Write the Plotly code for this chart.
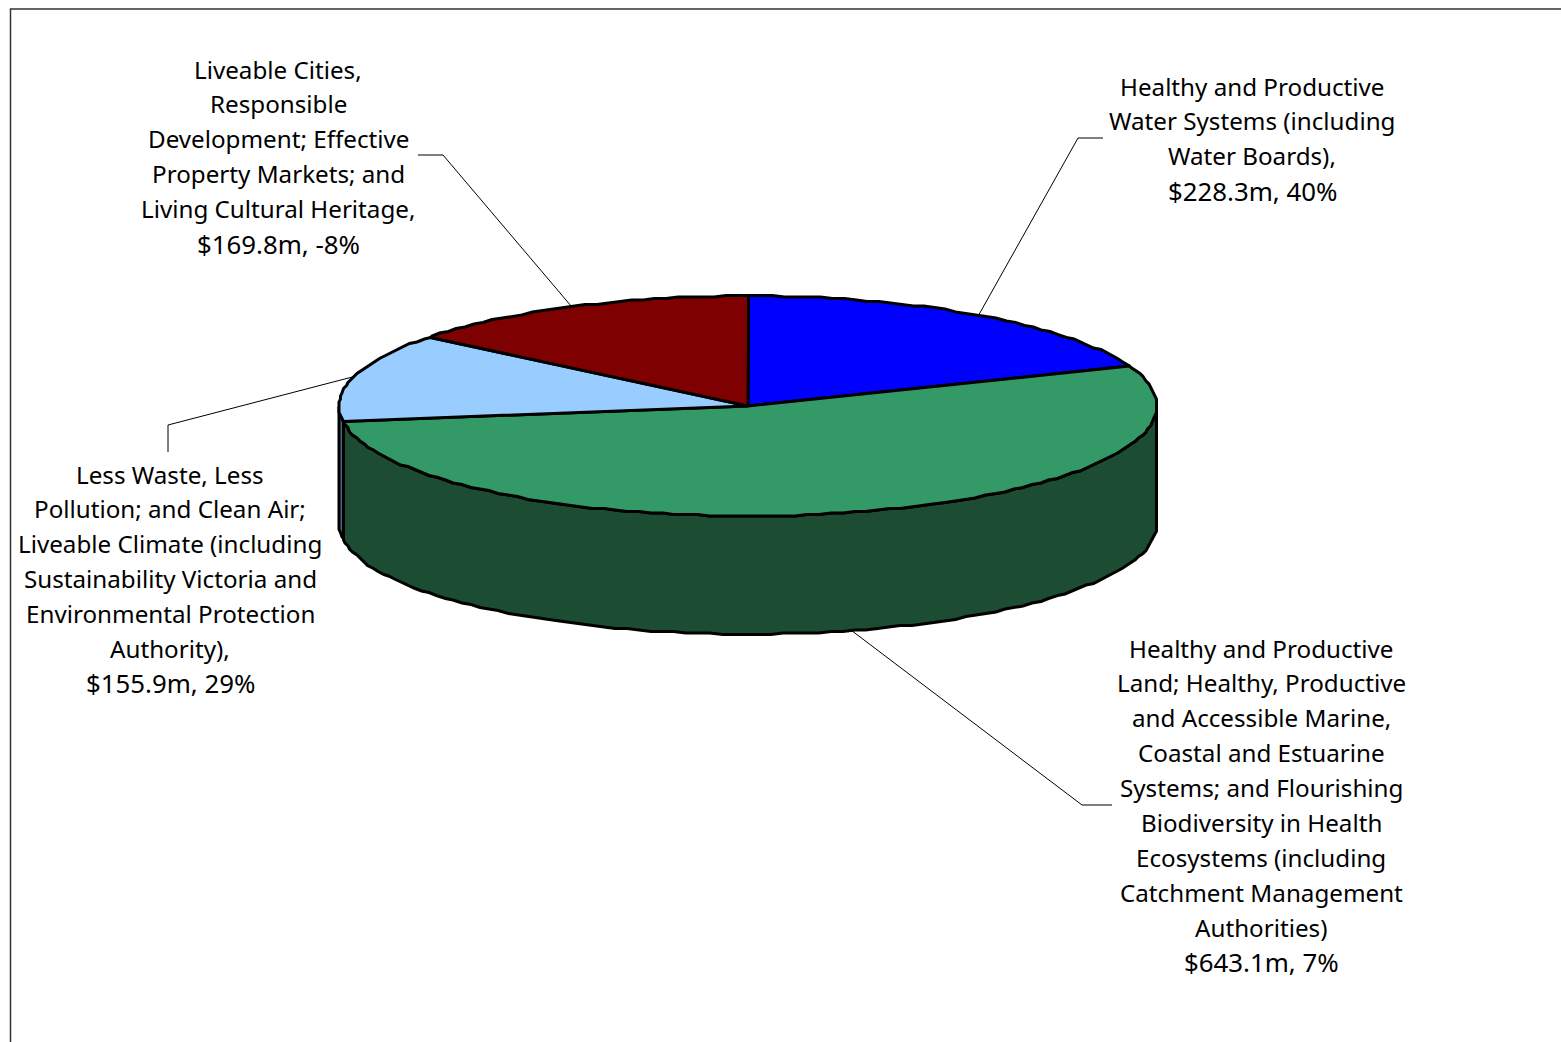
import numpy as np
import plotly.graph_objects as go

categories = ["Healthy and Productive Water Systems", "Healthy and Productive Land", "Less Waste", "Liveable Cities"]
values = [228.3, 643.1, 155.9, 169.8]
top_colors = ["#0000FF", "#339966", "#99CCFF", "#7F0000"]
wall_colors = ["#000080", "#1C4D33", "#4D6680", "#400000"]
label_lines = [
    ["Healthy and Productive", "Water Systems (including", "Water Boards),", "$228.3m, 40%"],
    ["Healthy and Productive", "Land; Healthy, Productive", "and Accessible Marine,", "Coastal and Estuarine",
     "Systems; and Flourishing", "Biodiversity in Health", "Ecosystems (including", "Catchment Management",
     "Authorities)", "$643.1m, 7%"],
    ["Less Waste, Less", "Pollution; and Clean Air;", "Liveable Climate (including", "Sustainability Victoria and",
     "Environmental Protection", "Authority),", "$155.9m, 29%"],
    ["Liveable Cities,", "Responsible", "Development; Effective", "Property Markets; and",
     "Living Cultural Heritage,", "$169.8m, -8%"],
]
label_x = [1252, 1261, 170, 278]
label_y0 = [86, 648, 474, 69]
line_step = 34.9
leader_knees = [[(1078, 138), (1103, 138)], [(1082, 805), (1112, 805)], [(168, 425), (168, 452)], [(443, 155), (418, 155)]]

CX, CY, RX, RY, DEPTH = 748, 406, 409, 110, 118
GRID = 1.5
STEP = 1.7


def ell(deg, dy=0.0, snap=True):
    t = np.radians(deg)
    x = CX + RX * np.sin(t)
    y = CY - RY * np.cos(t) + dy
    if snap:
        x = np.round(x / GRID) * GRID
        y = np.round(y / GRID) * GRID
    return x, y


fractions = np.array(values) / sum(values) * 360
ends = np.cumsum(fractions)
starts = ends - fractions

fig = go.Figure()
# frame
fig.add_trace(go.Scatter(x=[1561, 10.5, 10.5], y=[9, 9, 1042], mode="lines",
                         line=dict(color="#333333", width=1.5), hoverinfo="skip"))


def polygon(xs, ys, fill):
    fig.add_trace(go.Scatter(x=xs, y=ys, mode="lines", fill="toself", fillcolor=fill,
                             line=dict(color="#000000", width=3), hoverinfo="skip"))


grid_angles = np.arange(0, 360, STEP)
# side walls: only the part of each slice on the near half of the rim
for s, e, c in zip(starts, ends, wall_colors):
    lo, hi = max(s, 90), min(e, 270)
    if lo >= hi:
        continue
    a = np.r_[lo, grid_angles[(grid_angles > lo) & (grid_angles < hi)], hi]
    x1, y1 = ell(a)
    x2, y2 = ell(a[::-1], DEPTH)
    polygon(np.r_[x1, x2, x1[0]], np.r_[y1, y2, y1[0]], c)

# top faces
for s, e, c in zip(starts, ends, top_colors):
    a = np.r_[s, grid_angles[(grid_angles > s) & (grid_angles < e)], e]
    x, y = ell(a)
    polygon(np.r_[CX, x, CX], np.r_[CY, y, CY], c)

# leader lines anchored on each slice's mid angle
for i, (s, e) in enumerate(zip(starts, ends)):
    m = (s + e) / 2
    dy = DEPTH if 90 < m < 270 else 0
    x0, y0 = ell(m, dy, snap=False)
    knees = leader_knees[i]
    fig.add_trace(go.Scatter(x=[x0] + [k[0] for k in knees], y=[y0] + [k[1] for k in knees], mode="lines",
                             line=dict(color="#000000", width=1), hoverinfo="skip"))

# labels
for lines, lx, ly in zip(label_lines, label_x, label_y0):
    for j, txt in enumerate(lines):
        size = 25.8 if txt.startswith("$") else 24.2
        fig.add_annotation(x=lx, y=ly + j * line_step, text=txt, showarrow=False,
                           xanchor="center", yanchor="middle",
                           font=dict(family="Noto Sans", size=size, color="#000000"))

fig.update_layout(width=1561, height=1042, margin=dict(l=0, r=0, t=0, b=0), showlegend=False,
                  paper_bgcolor="#FFFFFF", plot_bgcolor="#FFFFFF",
                  xaxis=dict(range=[0, 1561], visible=False, fixedrange=True),
                  yaxis=dict(range=[1042, 0], visible=False, fixedrange=True))
fig.write_html("out.html", config=dict(displayModeBar=False),
               post_script="document.body.style.margin='0';document.body.style.overflow='hidden';")
